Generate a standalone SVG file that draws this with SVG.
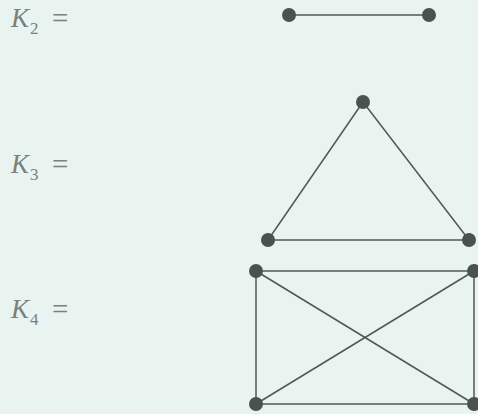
<svg xmlns="http://www.w3.org/2000/svg" width="478" height="414" viewBox="0 0 478 414">
<style>
.lbl{font-family:"Liberation Serif",serif;font-style:italic;font-size:27px;fill:#7a807b}
.sub{font-family:"Liberation Serif",serif;font-size:17px;fill:#7a807b;font-style:normal}
.eq{font-family:"Liberation Serif",serif;font-size:29px;fill:#7a807b}
.e{stroke:#4f5954;stroke-width:1.5;fill:none}
.n{fill:#4b524d}
</style>
<rect width="478" height="414" fill="#e9f4f0"/>
<g id="labels">
<text class="lbl" x="11" y="27">K<tspan class="sub" dx="1" dy="7">2</tspan></text>
<text class="eq" x="52" y="28">=</text>
<text class="lbl" x="11" y="173">K<tspan class="sub" dx="1" dy="7">3</tspan></text>
<text class="eq" x="52" y="174">=</text>
<text class="lbl" x="11" y="318">K<tspan class="sub" dx="1" dy="7">4</tspan></text>
<text class="eq" x="52" y="319">=</text>
</g>
<g id="connectors">
<line class="e" x1="289" y1="15" x2="429" y2="15"/>
<line class="e" x1="363" y1="102" x2="268" y2="240"/>
<line class="e" x1="363" y1="102" x2="469" y2="240"/>
<line class="e" x1="268" y1="240" x2="469" y2="240"/>
<line class="e" x1="256" y1="271" x2="474" y2="271"/>
<line class="e" x1="256" y1="404" x2="474" y2="404"/>
<line class="e" x1="256" y1="271" x2="256" y2="404"/>
<line class="e" x1="474" y1="271" x2="474" y2="404"/>
<line class="e" x1="256" y1="271" x2="474" y2="404"/>
<line class="e" x1="474" y1="271" x2="256" y2="404"/>
</g>
<g id="k2a"><circle class="n" cx="289" cy="15" r="7"/></g>
<g id="k2b"><circle class="n" cx="429" cy="15" r="7"/></g>
<g id="k3a"><circle class="n" cx="363" cy="102" r="7"/></g>
<g id="k3b"><circle class="n" cx="268" cy="240" r="7"/></g>
<g id="k3c"><circle class="n" cx="469" cy="240" r="7"/></g>
<g id="k4a"><circle class="n" cx="256" cy="271" r="7"/></g>
<g id="k4b"><circle class="n" cx="474" cy="271" r="7"/></g>
<g id="k4c"><circle class="n" cx="256" cy="404" r="7"/></g>
<g id="k4d"><circle class="n" cx="474" cy="404" r="7"/></g>
</svg>
